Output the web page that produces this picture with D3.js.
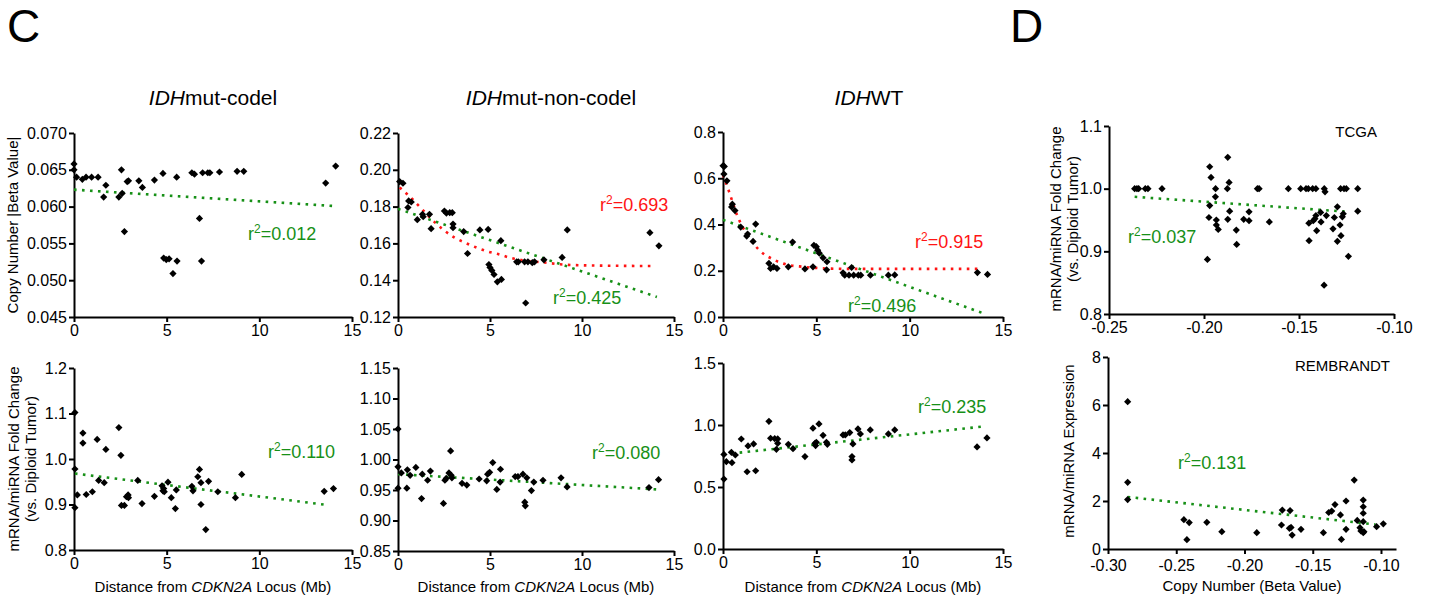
<!DOCTYPE html>
<html>
<head>
<meta charset="utf-8">
<script src="https://cdn.jsdelivr.net/npm/d3@7"></script>
<style>
  body { margin: 0; background: #fff; }
  svg text { font-family: "Liberation Sans", Arial, sans-serif; fill: #000; }
</style>
</head>
<body>
<svg id="chart" width="1432" height="603"></svg>
<script>
// ---------- data ----------
const distTicks = [0, 5, 10, 15];

// copy number |beta value| vs distance from CDKN2A (Mb)
const codelCN = [[0,0.0658],[0,0.065],[0.14,0.064],[0.45,0.0637],[0.65,0.064],[0.95,0.064],[1.3,0.064],
  [1.72,0.0629],[1.6,0.0613],[2.42,0.0613],[2.56,0.065],[2.6,0.0618],[2.72,0.0566],[2.87,0.0634],[2.94,0.0635],
  [3.5,0.0635],[3.69,0.0626],[4.34,0.0636],[4.8,0.0645],[4.84,0.053],[4.98,0.0528],[5.13,0.0529],[5.34,0.0509],
  [5.56,0.0526],[5.54,0.064],[6.36,0.0646],[6.5,0.0644],[6.77,0.0584],[6.88,0.0526],[6.94,0.0646],[7.22,0.0646],
  [7.33,0.0646],[7.85,0.0647],[8.8,0.0648],[9.16,0.0648],[13.58,0.0632],[14.12,0.0655]];
const codelCNTicks = [0.045, 0.050, 0.055, 0.060, 0.065, 0.070];
const codelCNLin = [[0,0.0623],[13.94,0.0601]];

const nonCodelCN = [[0.09,0.1936],[0.27,0.1927],[0.54,0.1795],[0.58,0.1831],[0.72,0.1825],[1.05,0.1729],
  [1.33,0.1758],[1.37,0.1745],[1.71,0.1758],[1.8,0.168],[2.52,0.1776],[2.63,0.1765],[2.81,0.1767],[2.95,0.1767],
  [2.99,0.1705],[2.99,0.1685],[3.57,0.1664],[3.78,0.1545],[4.45,0.1673],[4.9,0.1676],[4.94,0.1485],[5.0,0.1469],
  [5.1,0.1453],[5.22,0.1431],[5.4,0.1391],[5.62,0.1404],[5.59,0.1615],[6.45,0.15],[6.54,0.15],[6.94,0.1276],
  [6.88,0.15],[7.06,0.15],[7.3,0.1495],[7.42,0.15],[7.93,0.1511],[8.92,0.1524],[9.2,0.1673],[13.69,0.1658],[14.18,0.1587]];
const nonCodelCNTicks = [0.12, 0.14, 0.16, 0.18, 0.20, 0.22];
const nonCodelCNLin = [[0,0.1788],[14.07,0.1309]];
const nonCodelCNDecay = [[0.09,0.1904],[0.54,0.1864],[1.22,0.1795],[1.83,0.1731],[2.44,0.1676],[3.05,0.1633],
  [3.62,0.1605],[4.3,0.1576],[4.87,0.1556],[5.5,0.154],[6.09,0.1522],[6.7,0.1509],[7.3,0.1502],[7.97,0.1496],
  [8.96,0.1485],[10.5,0.148],[14,0.1477]];

const wtCN = [[0,0.654],[0.07,0.651],[0.05,0.618],[0.21,0.589],[0.5,0.488],[0.46,0.476],[0.64,0.46],[0.95,0.389],
  [1.27,0.35],[1.32,0.359],[1.61,0.327],[1.75,0.402],[2.46,0.232],[2.55,0.21],[2.71,0.217],[2.89,0.21],[3.5,0.217],
  [3.73,0.324],[4.39,0.208],[4.82,0.217],[4.87,0.31],[5.0,0.304],[5.07,0.289],[5.16,0.276],[5.36,0.256],[5.55,0.204],
  [5.57,0.239],[6.43,0.191],[6.52,0.181],[6.75,0.181],[6.89,0.214],[7.0,0.181],[7.25,0.181],[7.38,0.181],[7.9,0.181],
  [8.86,0.181],[9.2,0.182],[13.63,0.192],[14.17,0.184]];
const wtCNTicks = [0, 0.2, 0.4, 0.6, 0.8];
const wtCNLin = [[0,0.42],[14.0,0.0145]];
const wtCNDecay = [[0,0.615],[0.32,0.543],[0.5,0.5],[0.77,0.437],[1.04,0.391],[1.43,0.34],[1.67,0.314],
  [1.97,0.287],[2.69,0.249],[3.4,0.227],[4.3,0.217],[5.47,0.21],[6.8,0.208],[13.8,0.208]];

// mRNA/miRNA fold change vs distance
const codelExpr = [[0.05,1.102],[0.05,0.978],[0.05,0.893],[0.18,0.921],[0.48,1.057],[0.48,1.035],[0.66,0.922],
  [0.99,0.928],[1.25,1.043],[1.33,0.953],[1.63,0.948],[1.72,1.021],[2.42,1.069],[2.53,1.008],[2.56,0.898],[2.72,0.898],
  [2.83,0.917],[2.92,0.921],[2.94,0.915],[3.44,0.953],[3.67,0.902],[4.34,0.918],[4.75,0.941],[4.8,0.93],[4.84,0.935],
  [4.87,0.928],[5.07,0.949],[5.25,0.915],[5.47,0.891],[5.52,0.932],[6.36,0.94],[6.42,0.93],[6.68,0.961],[6.77,0.977],
  [6.85,0.9],[6.85,0.948],[7.11,0.845],[7.26,0.951],[7.76,0.928],[8.71,0.915],[9.05,0.966],[13.5,0.929],[14.0,0.935]];
const codelExprTicks = [0.8, 0.9, 1.0, 1.1, 1.2];
const codelExprLin = [[0.05,0.968],[13.67,0.899]];

const nonCodelExpr = [[0,1.05],[0,0.988],[0,0.953],[0.18,0.978],[0.48,0.953],[0.51,0.983],[0.66,0.974],[0.97,0.987],
  [1.28,0.936],[1.32,0.976],[1.61,0.966],[1.76,0.981],[2.47,0.928],[2.55,0.966],[2.62,0.969],[2.77,0.978],[2.86,1.014],
  [2.89,0.974],[2.93,0.97],[3.48,0.961],[3.74,0.958],[4.41,0.968],[4.82,0.965],[4.87,0.976],[4.98,0.979],[5.15,0.995],
  [5.37,0.951],[5.55,0.963],[5.57,0.984],[6.37,0.972],[6.52,0.972],[6.79,0.976],[6.89,0.93],[6.92,0.924],[7.0,0.97],
  [7.25,0.949],[7.38,0.963],[7.88,0.966],[8.86,0.97],[9.19,0.955],[13.64,0.954],[14.16,0.967]];
const nonCodelExprTicks = [0.85, 0.90, 0.95, 1.00, 1.05, 1.10, 1.15];
const nonCodelExprLin = [[0,0.976],[14.07,0.951]];

const wtExpr = [[0.05,0.564],[0.05,0.763],[0.18,0.704],[0.45,0.78],[0.48,0.696],[0.66,0.758],[0.98,0.887],
  [1.29,0.623],[1.34,0.831],[1.64,0.847],[1.75,0.631],[2.46,1.03],[2.55,0.893],[2.77,0.89],[2.86,0.804],[2.93,0.888],
  [2.93,0.852],[3.5,0.844],[3.75,0.809],[4.39,0.745],[4.82,0.974],[4.93,0.852],[4.96,0.834],[5.0,0.861],[5.14,1.009],
  [5.36,0.917],[5.54,0.861],[5.59,0.844],[6.43,0.92],[6.55,0.92],[6.79,0.939],[6.91,0.745],[6.91,0.718],[6.96,0.847],
  [7.23,0.968],[7.36,0.928],[7.89,0.96],[8.86,0.928],[9.2,0.96],[13.61,0.823],[14.14,0.896]];
const wtExprTicks = [0, 0.5, 1.0, 1.5];
const wtExprLin = [[0.89,0.777],[13.89,0.987]];

// D: expression vs copy number (beta value)
const tcgaPts = [[-0.2365,1.0],[-0.2353,1.0],[-0.2344,1.0],[-0.2309,1.0],[-0.2295,1.0],[-0.2221,1.0],
  [-0.1982,0.887],[-0.197,1.035],[-0.1963,1.018],[-0.197,0.973],[-0.1974,0.954],[-0.1939,1.0],[-0.194,0.987],
  [-0.1935,0.95],[-0.1935,0.942],[-0.1925,0.935],[-0.1875,1.05],[-0.1868,1.01],[-0.1877,1.0],[-0.1865,0.964],
  [-0.1875,0.951],[-0.183,0.934],[-0.1828,0.911],[-0.1791,0.951],[-0.1763,0.963],[-0.1763,0.949],[-0.1719,1.0],
  [-0.171,1.0],[-0.1656,0.947],[-0.1556,1.0],[-0.1491,1.0],[-0.1463,1.0],[-0.1451,1.0],[-0.1428,1.0],[-0.1411,1.0],
  [-0.1367,1.0],[-0.1363,0.995],[-0.1281,1.0],[-0.1263,1.0],[-0.1251,1.0],[-0.1191,1.0],[-0.1191,0.964],
  [-0.1298,0.971],[-0.1267,0.96],[-0.1272,0.955],[-0.1284,0.942],[-0.1279,0.925],[-0.1298,0.916],[-0.1314,0.954],
  [-0.1321,0.936],[-0.1356,0.957],[-0.1386,0.962],[-0.1384,0.947],[-0.1411,0.957],[-0.1416,0.952],[-0.1425,0.949],
  [-0.1448,0.945],[-0.1407,0.933],[-0.1447,0.917],[-0.1368,0.846],[-0.124,0.892]];
const tcgaXTicks = [-0.25, -0.20, -0.15, -0.10];
const tcgaYTicks = [0.8, 0.9, 1.0, 1.1];
const tcgaLin = [[-0.2365,0.987],[-0.1236,0.963]];

const rembrandtPts = [[-0.2856,6.14],[-0.2856,2.78],[-0.2856,2.06],[-0.2444,1.22],[-0.2422,0.39],[-0.2405,1.1],
  [-0.2276,1.11],[-0.2166,0.72],[-0.191,0.68],[-0.1729,1.0],[-0.1723,1.62],[-0.1666,1.6],[-0.1671,0.86],[-0.1659,0.9],
  [-0.1651,0.58],[-0.1586,0.82],[-0.1422,0.68],[-0.1383,1.52],[-0.1361,1.58],[-0.1337,1.85],[-0.1297,1.42],[-0.129,0.4],
  [-0.1256,0.82],[-0.1256,2.0],[-0.1196,2.87],[-0.1174,1.19],[-0.1154,0.89],[-0.113,2.04],[-0.113,1.76],[-0.113,1.49],
  [-0.113,1.14],[-0.1147,0.75],[-0.113,0.68],[-0.1125,0.72],[-0.1032,0.93],[-0.0983,1.05]];
const rembrandtXTicks = [-0.30, -0.25, -0.20, -0.15, -0.10];
const rembrandtYTicks = [0, 2, 4, 6, 8];
const rembrandtLin = [[-0.2856,2.17],[-0.104,1.02]];

// ---------- drawing ----------
const GREEN = "#179017", RED = "#ff1414";
const svg = d3.select("#chart");

const distFmt = d => d3.format("d")(d);
const fix = n => (d => d.toFixed(n));

const panels = [
  { pts: codelCN, xd: [0,15], xr: [74,352], xt: distTicks, xf: distFmt,
    yd: [0.045,0.070], yr: [317,133], yt: codelCNTicks, yf: fix(3),
    fits: [{ pts: codelCNLin, c: GREEN }],
    labels: [{ t: "0.012", c: GREEN, x: 248, y: 240 }] },
  { pts: nonCodelCN, xd: [0,15], xr: [398,674], xt: distTicks, xf: distFmt,
    yd: [0.12,0.22], yr: [317,133], yt: nonCodelCNTicks, yf: fix(2),
    fits: [{ pts: nonCodelCNDecay, c: RED }, { pts: nonCodelCNLin, c: GREEN }],
    labels: [{ t: "0.693", c: RED, x: 600, y: 211 }, { t: "0.425", c: GREEN, x: 553, y: 304 }] },
  { pts: wtCN, xd: [0,15], xr: [723,1003], xt: distTicks, xf: distFmt,
    yd: [0,0.8], yr: [317,132], yt: wtCNTicks, yf: fix(1),
    fits: [{ pts: wtCNDecay, c: RED }, { pts: wtCNLin, c: GREEN }],
    labels: [{ t: "0.915", c: RED, x: 915, y: 248 }, { t: "0.496", c: GREEN, x: 848, y: 312 }] },
  { pts: tcgaPts, xd: [-0.25,-0.10], xr: [1109,1394], xt: tcgaXTicks, xf: fix(2),
    yd: [0.8,1.1], yr: [314,126], yt: tcgaYTicks, yf: fix(1),
    fits: [{ pts: tcgaLin, c: GREEN }],
    labels: [{ t: "0.037", c: GREEN, x: 1128, y: 243 }] },
  { pts: codelExpr, xd: [0,15], xr: [74,352], xt: distTicks, xf: distFmt,
    yd: [0.8,1.2], yr: [550,368], yt: codelExprTicks, yf: fix(1),
    fits: [{ pts: codelExprLin, c: GREEN }],
    labels: [{ t: "0.110", c: GREEN, x: 268, y: 458 }] },
  { pts: nonCodelExpr, xd: [0,15], xr: [398,674], xt: distTicks, xf: distFmt,
    yd: [0.85,1.15], yr: [551,368], yt: nonCodelExprTicks, yf: fix(2),
    fits: [{ pts: nonCodelExprLin, c: GREEN }],
    labels: [{ t: "0.080", c: GREEN, x: 592, y: 459 }] },
  { pts: wtExpr, xd: [0,15], xr: [723,1003], xt: distTicks, xf: distFmt,
    yd: [0,1.5], yr: [549,363], yt: wtExprTicks, yf: fix(1),
    fits: [{ pts: wtExprLin, c: GREEN }],
    labels: [{ t: "0.235", c: GREEN, x: 918, y: 413 }] },
  { pts: rembrandtPts, xd: [-0.30,-0.089], xr: [1108,1396], xt: rembrandtXTicks, xf: fix(2), xPad: 6,
    yd: [0,8], yr: [549,357], yt: rembrandtYTicks, yf: distFmt,
    fits: [{ pts: rembrandtLin, c: GREEN }],
    labels: [{ t: "0.131", c: GREEN, x: 1178, y: 469 }] }
];

function styleAxis(a) {
  a.select(".domain").attr("stroke", "#000").attr("stroke-width", 2);
  a.selectAll(".tick line").attr("stroke", "#000").attr("stroke-width", 2);
  a.selectAll(".tick text").style("font-size", "16px").attr("fill", "#000");
}

function drawPanel(p) {
  const x = d3.scaleLinear().domain(p.xd).range(p.xr);
  const y = d3.scaleLinear().domain(p.yd).range(p.yr);
  const g = svg.append("g");

  const xa = g.append("g").attr("transform", `translate(0,${p.yr[0]})`)
    .call(d3.axisBottom(x).tickValues(p.xt).tickFormat(p.xf).tickSize(5).tickSizeOuter(0)
      .tickPadding(p.xPad || 3));
  styleAxis(xa);
  const ya = g.append("g").attr("transform", `translate(${p.xr[0]},0)`)
    .call(d3.axisLeft(y).tickValues(p.yt).tickFormat(p.yf).tickSize(5).tickSizeOuter(0).tickPadding(2));
  styleAxis(ya);

  // fitted curves, dotted
  p.fits.forEach(f => {
    g.append("path").datum(f.pts)
      .attr("d", d3.line().x(d => x(d[0])).y(d => y(d[1]))
        .curve(f.pts.length > 2 ? d3.curveMonotoneX : d3.curveLinear))
      .attr("fill", "none").attr("stroke", f.c)
      .attr("stroke-width", 2.6).attr("stroke-dasharray", "2.6,5.4");
  });

  // diamonds
  g.selectAll("path.pt").data(p.pts).join("path")
    .attr("class", "pt")
    .attr("d", d3.symbol(d3.symbolSquare, 26))
    .attr("transform", d => `translate(${x(d[0])},${y(d[1])}) rotate(45)`)
    .attr("fill", "#000");

  // r² labels
  p.labels.forEach(l => {
    const t = g.append("text").attr("x", l.x).attr("y", l.y)
      .style("font-size", "18px").style("fill", l.c);
    t.append("tspan").text("r");
    t.append("tspan").attr("dy", -7).style("font-size", "12px").text("2");
    t.append("tspan").attr("dy", 7).text("=" + l.t);
  });
}

panels.forEach(drawPanel);

// panel letters
svg.append("text").attr("x", 7).attr("y", 42).style("font-size", "46px").text("C");
svg.append("text").attr("x", 1010).attr("y", 42).style("font-size", "46px").text("D");

// column titles
function title(cx, rest) {
  const t = svg.append("text").attr("x", cx).attr("y", 105)
    .attr("text-anchor", "middle").style("font-size", "21px");
  t.append("tspan").style("font-style", "italic").text("IDH");
  t.append("tspan").text(rest);
}
title(213, "mut-codel");
title(551, "mut-non-codel");
title(869, "WT");

// dataset tags
svg.append("text").attr("x", 1377).attr("y", 137).attr("text-anchor", "end")
  .style("font-size", "15px").text("TCGA");
svg.append("text").attr("x", 1390).attr("y", 371).attr("text-anchor", "end")
  .style("font-size", "15px").text("REMBRANDT");

// y axis titles
function yTitle(x, y, txt) {
  svg.append("text").attr("transform", `translate(${x},${y}) rotate(-90)`)
    .attr("text-anchor", "middle").style("font-size", "15px").text(txt);
}
yTitle(18, 225, "Copy Number |Beta Value|");
yTitle(19, 459, "mRNA/miRNA Fold Change");
yTitle(36, 459, "(vs. Diploid Tumor)");
yTitle(1061, 219, "mRNA/miRNA Fold Change");
yTitle(1078, 219, "(vs. Diploid Tumor)");
yTitle(1074, 451, "mRNA/miRNA Expression");

// x axis titles
function xTitle(cx) {
  const t = svg.append("text").attr("x", cx).attr("y", 592)
    .attr("text-anchor", "middle").style("font-size", "15px");
  t.append("tspan").text("Distance from ");
  t.append("tspan").style("font-style", "italic").text("CDKN2A");
  t.append("tspan").text(" Locus (Mb)");
}
xTitle(213);
xTitle(536);
xTitle(863);
svg.append("text").attr("x", 1252).attr("y", 591).attr("text-anchor", "middle")
  .style("font-size", "15px").text("Copy Number (Beta Value)");
</script>
</body>
</html>
